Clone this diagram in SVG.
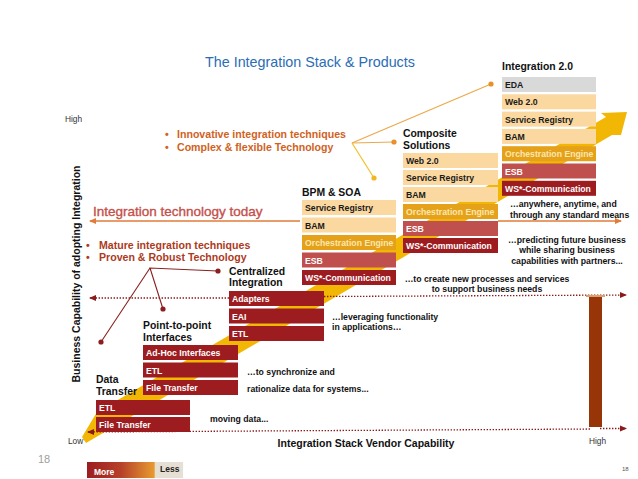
<svg xmlns="http://www.w3.org/2000/svg" width="638" height="479" viewBox="0 0 638 479">
<defs>
<style>
text{font-family:"Liberation Sans",Arial,sans-serif}
.bx{font-size:8.7px;font-weight:bold}
.be{fill:#fad8a0}.gd{fill:#e6a11a}.er{fill:#c0504d}.dr{fill:#9c1c20}.gy{fill:#d9d9d9}
.tk{fill:#1a1a1a}.tw{fill:#ffffff}.to{fill:#fbe8b0}
.lbl{font-size:10.4px;font-weight:bold;fill:#111}
.ann{font-size:8.7px;font-weight:bold;fill:#111}
.dot{stroke:#8b1a1a;stroke-width:1.3;stroke-dasharray:1.4 1.6;fill:none}
</style>
<marker id="ar" markerWidth="8" markerHeight="8" refX="6" refY="4" orient="auto" markerUnits="userSpaceOnUse"><path d="M0,1 L7,4 L0,7 Z" fill="#8b1a1a"/></marker>
<marker id="ao" markerWidth="8" markerHeight="8" refX="6" refY="4" orient="auto" markerUnits="userSpaceOnUse"><path d="M0,1 L7,4 L0,7 Z" fill="#e07b39"/></marker>
<linearGradient id="lg" x1="0" y1="0" x2="1" y2="0">
<stop offset="0" stop-color="#9c1c20"/><stop offset="0.35" stop-color="#b5402a"/><stop offset="0.7" stop-color="#e89a30"/><stop offset="0.71" stop-color="#e6dfd3"/><stop offset="1" stop-color="#e6dfd3"/>
</linearGradient>
</defs>
<rect width="638" height="479" fill="#ffffff"/>

<text x="310" y="67" text-anchor="middle" font-size="14.3" fill="#2a6db5">The Integration Stack &amp; Products</text>

<!-- big yellow staircase arrow -->
<polygon points="97,412 606,117 601,113 627,112 621,135 612,135 86,443 82,437" fill="#f2b705"/>

<g id="connectors">
<line x1="300" y1="221" x2="90" y2="221" stroke="#e07b39" stroke-width="1.4" marker-end="url(#ao)"/>
<line x1="498" y1="221" x2="621" y2="221" stroke="#e07b39" stroke-width="1.4" marker-end="url(#ao)"/>
<line x1="229" y1="298" x2="90" y2="298" class="dot" marker-end="url(#ar)"/>
<line x1="324" y1="296.5" x2="626" y2="295" class="dot" marker-end="url(#ar)"/>
<line x1="590" y1="429" x2="88" y2="432" class="dot" marker-end="url(#ar)"/>
<line x1="600" y1="428.5" x2="626" y2="428.5" class="dot" marker-end="url(#ar)"/>
<line x1="352" y1="143" x2="491" y2="84" stroke="#eba94b" stroke-width="1.2"/>
<line x1="352" y1="143" x2="394" y2="142" stroke="#eba94b" stroke-width="1.2"/>
<line x1="352" y1="143" x2="374" y2="178" stroke="#f2c028" stroke-width="1.2"/>
<circle cx="491" cy="84" r="2.6" fill="#e8902a"/>
<circle cx="394" cy="142" r="2.6" fill="#e8902a"/>
<circle cx="374" cy="178" r="2.6" fill="#f0b820"/>
<polyline points="218,271 150,268 163,309" fill="none" stroke="#8b1f1f" stroke-width="1.1"/>
<line x1="150" y1="268" x2="101" y2="342" stroke="#8b1f1f" stroke-width="1.1"/>
<circle cx="218" cy="271" r="2.6" fill="#8b1f1f"/>
<circle cx="163" cy="309" r="2.6" fill="#8b1f1f"/>
<circle cx="101" cy="342" r="2.6" fill="#8b1f1f"/>
</g>

<!-- right vertical bar -->
<rect x="589" y="296" width="13" height="131" fill="#983508"/>
<rect x="586" y="295" width="19" height="2" fill="#d9a070"/>

<g id="data-transfer">
<text class="lbl" x="96" y="383">Data</text>
<text class="lbl" x="96" y="395">Transfer</text>
<rect class="dr" x="96" y="400" width="94" height="15"/><text class="bx tw" x="99" y="411">ETL</text>
<rect class="dr" x="96" y="417" width="94" height="15"/><text class="bx tw" x="99" y="428">File Transfer</text>
</g>

<g id="point-to-point">
<text class="lbl" x="143" y="329">Point-to-point</text>
<text class="lbl" x="143" y="341">Interfaces</text>
<rect class="dr" x="143" y="345" width="95" height="15"/><text class="bx tw" x="146" y="356">Ad-Hoc Interfaces</text>
<rect class="dr" x="143" y="362.5" width="95" height="15"/><text class="bx tw" x="146" y="373.5">ETL</text>
<rect class="dr" x="143" y="380" width="95" height="15"/><text class="bx tw" x="146" y="391">File Transfer</text>
</g>

<g id="centralized">
<text class="lbl" x="229" y="275">Centralized</text>
<text class="lbl" x="229" y="286">Integration</text>
<rect class="dr" x="229" y="291" width="95" height="15"/><text class="bx tw" x="232" y="302">Adapters</text>
<rect class="dr" x="229" y="308.5" width="95" height="15"/><text class="bx tw" x="232" y="319.5">EAI</text>
<rect class="dr" x="229" y="326" width="95" height="15"/><text class="bx tw" x="232" y="337">ETL</text>
</g>

<g id="bpm-soa">
<text class="lbl" x="302" y="196">BPM &amp; SOA</text>
<rect class="be" x="302" y="200" width="94" height="15"/><text class="bx tk" x="305" y="211">Service Registry</text>
<rect class="be" x="302" y="217.5" width="94" height="15"/><text class="bx tk" x="305" y="228.5">BAM</text>
<rect class="gd" x="302" y="235" width="94" height="15"/><text class="bx to" x="305" y="246">Orchestration Engine</text>
<rect class="er" x="302" y="252.5" width="94" height="15"/><text class="bx tw" x="305" y="263.5">ESB</text>
<rect class="dr" x="302" y="270" width="94" height="15"/><text class="bx tw" x="305" y="281">WS*-Communication</text>
</g>

<g id="composite">
<text class="lbl" x="403" y="137">Composite</text>
<text class="lbl" x="403" y="149">Solutions</text>
<rect class="be" x="403" y="153" width="95" height="15"/><text class="bx tk" x="406" y="164">Web 2.0</text>
<rect class="be" x="403" y="170" width="95" height="15"/><text class="bx tk" x="406" y="181">Service Registry</text>
<rect class="be" x="403" y="187" width="95" height="15"/><text class="bx tk" x="406" y="198">BAM</text>
<rect class="gd" x="403" y="204" width="95" height="15"/><text class="bx to" x="406" y="215">Orchestration Engine</text>
<rect class="er" x="403" y="221" width="95" height="15"/><text class="bx tw" x="406" y="232">ESB</text>
<rect class="dr" x="403" y="238" width="95" height="15"/><text class="bx tw" x="406" y="249">WS*-Communication</text>
</g>

<g id="integration-2">
<text class="lbl" x="502" y="70">Integration 2.0</text>
<rect class="gy" x="502" y="77" width="94" height="15"/><text class="bx tk" x="505" y="88">EDA</text>
<rect class="be" x="502" y="94.3" width="94" height="15"/><text class="bx tk" x="505" y="105.3">Web 2.0</text>
<rect class="be" x="502" y="111.6" width="94" height="15"/><text class="bx tk" x="505" y="122.6">Service Registry</text>
<rect class="be" x="502" y="128.9" width="94" height="15"/><text class="bx tk" x="505" y="139.9">BAM</text>
<rect class="gd" x="502" y="146.2" width="94" height="15"/><text class="bx to" x="505" y="157.2">Orchestration Engine</text>
<rect class="er" x="502" y="163.5" width="94" height="15"/><text class="bx tw" x="505" y="174.5">ESB</text>
<rect class="dr" x="502" y="180.8" width="94" height="15"/><text class="bx tw" x="505" y="191.8">WS*-Communication</text>
</g>

<!-- bullets -->
<g font-size="10.6" font-weight="bold" fill="#d0621e">
<text x="165" y="138">•</text><text x="177" y="138">Innovative integration techniques</text>
<text x="165" y="151">•</text><text x="177" y="151">Complex &amp; flexible Technology</text>
</g>
<g font-size="10.6" font-weight="bold" fill="#ad3a1c">
<text x="86" y="249">•</text><text x="99" y="249">Mature integration techniques</text>
<text x="86" y="261">•</text><text x="99" y="261">Proven &amp; Robust Technology</text>
</g>
<text x="93" y="216" font-size="13.5" fill="#c4504a" stroke="#c4504a" stroke-width="0.35">Integration technology today</text>

<!-- annotations -->
<text class="ann" x="210" y="422">moving data...</text>
<text class="ann" x="247" y="375">…to synchronize and</text>
<text class="ann" x="247" y="392">rationalize data for systems...</text>
<text class="ann" x="332" y="320">…leveraging functionality</text>
<text class="ann" x="332" y="330">in applications…</text>
<text class="ann" x="487" y="282" text-anchor="middle">…to create new processes and services</text>
<text class="ann" x="487" y="292" text-anchor="middle">to support business needs</text>
<text class="ann" x="510" y="207">…anywhere, anytime, and</text>
<text class="ann" x="510" y="218">through any standard means</text>
<text class="ann" x="567" y="243" text-anchor="middle">…predicting future business</text>
<text class="ann" x="567" y="253" text-anchor="middle">while sharing business</text>
<text class="ann" x="567" y="264" text-anchor="middle">capabilities with partners...</text>

<!-- axes labels -->
<text x="65" y="122" font-size="8.3" fill="#333">High</text>
<text x="68" y="444" font-size="8.3" fill="#333">Low</text>
<text x="589" y="444" font-size="8.3" fill="#333">High</text>
<text x="366" y="447" text-anchor="middle" font-size="10.5" font-weight="bold" fill="#111">Integration Stack Vendor Capability</text>
<text transform="translate(80,274) rotate(-90)" text-anchor="middle" font-size="10.5" font-weight="bold" fill="#111">Business Capability of adopting Integration</text>

<!-- page numbers -->
<text x="38" y="463" font-size="11" fill="#a0a0a0">18</text>
<text x="622" y="471" font-size="6" fill="#555">18</text>

<!-- legend -->
<g id="legend">
<rect x="87" y="462" width="96" height="16" fill="url(#lg)"/>
<text x="94" y="475" font-size="8.5" font-weight="bold" fill="#ffffff">More</text>
<text x="160" y="472" font-size="8.5" font-weight="bold" fill="#222">Less</text>
</g>
</svg>
